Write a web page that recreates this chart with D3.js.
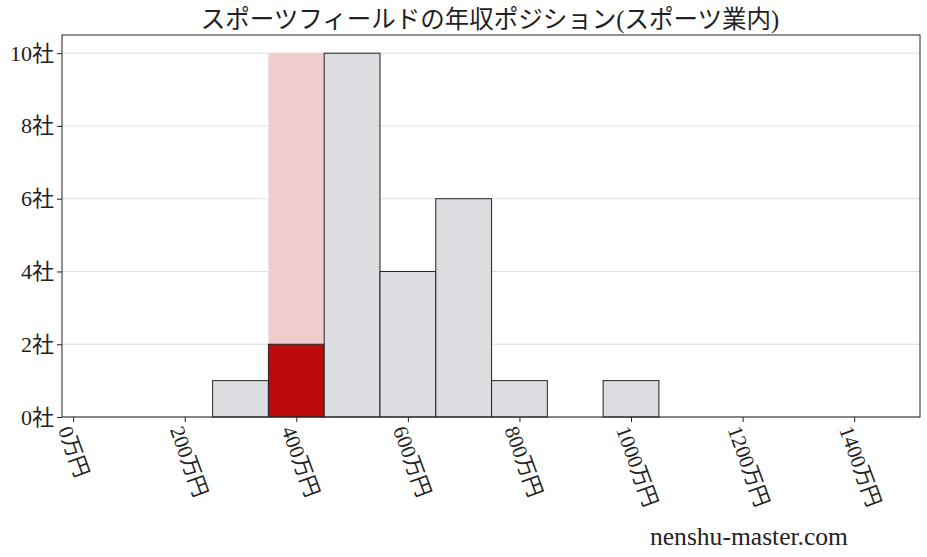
<!DOCTYPE html>
<html><head><meta charset="utf-8">
<script src="https://cdn.jsdelivr.net/npm/d3@7"></script>
<style>body{margin:0;background:#fff}svg{display:block}</style>
</head><body>
<script>
const title = "スポーツフィールドの年収ポジション(スポーツ業内)";
const binStarts = [250, 350, 450, 550, 650, 750, 850, 950];
const binWidth = 100;
const counts = [1, 2, 10, 4, 6, 1, 0, 1];
const highlightBin = 350;
const highlightBackground = 10;
const xTicks = [0, 200, 400, 600, 800, 1000, 1200, 1400];
const yTicks = [0, 2, 4, 6, 8, 10];
const watermark = "nenshu-master.com";

const W = 927, H = 557;
const m = {left: 62, right: 7, top: 35, bottom: 140};
const font = "'Liberation Serif','DejaVu Serif','Noto Sans CJK JP',serif";
const svg = d3.select("body").append("svg").attr("width", W).attr("height", H);
const x = d3.scaleLinear().domain([-20, 1518]).range([m.left, W - m.right]);
const y = d3.scaleLinear().domain([0, 10.5]).range([H - m.bottom, m.top]);

// grid
svg.append("g").selectAll("line").data(yTicks).join("line")
  .attr("x1", m.left).attr("x2", W - m.right)
  .attr("y1", d => y(d)).attr("y2", d => y(d))
  .attr("stroke", "#dddddd").attr("stroke-width", 1);

// highlight background
svg.append("rect")
  .attr("x", x(highlightBin)).attr("width", x(highlightBin + binWidth) - x(highlightBin))
  .attr("y", y(highlightBackground)).attr("height", y(0) - y(highlightBackground))
  .attr("fill", "#f0cccc");

const data = binStarts.map((s, i) => ({s, c: counts[i]}));
svg.append("g").selectAll("rect").data(data.filter(d => d.c > 0)).join("rect")
  .attr("x", d => x(d.s)).attr("width", d => x(d.s + binWidth) - x(d.s))
  .attr("y", d => y(d.c)).attr("height", d => y(0) - y(d.c))
  .attr("fill", d => d.s === highlightBin ? "#be0a0a" : "#dcdde0")
  .attr("stroke", "#222").attr("stroke-width", 1);

// frame
svg.append("rect").attr("x", m.left).attr("y", m.top)
  .attr("width", W - m.right - m.left).attr("height", H - m.bottom - m.top)
  .attr("fill", "none").attr("stroke", "#222").attr("stroke-width", 1);

// y axis
const ya = svg.append("g").attr("transform", `translate(${m.left},0)`)
  .call(d3.axisLeft(y).tickValues(yTicks).tickSize(5).tickPadding(3).tickFormat(d => d + "社"));
ya.select(".domain").remove();
ya.selectAll("line").attr("stroke", "#222");
ya.selectAll("text").attr("font-family", font).attr("font-size", 22).attr("fill", "#222");

// x axis
const xa = svg.append("g").attr("transform", `translate(0,${H - m.bottom})`)
  .call(d3.axisBottom(x).tickValues(xTicks).tickSize(5).tickFormat(d => d + "万円"));
xa.select(".domain").remove();
xa.selectAll("line").attr("stroke", "#222");
xa.selectAll("text").attr("font-family", font).attr("font-size", 21).attr("fill", "#222")
  .attr("text-anchor", "start").attr("dy", null).attr("y", 0)
  .attr("transform", "translate(-9,10) rotate(70)")
  .attr("dominant-baseline", "central");

svg.append("text").attr("x", 490).attr("y", 28).attr("text-anchor", "middle")
  .attr("font-family", font).attr("font-size", 24.5).attr("fill", "#222").text(title);

svg.append("text").attr("x", 650).attr("y", 545)
  .attr("font-family", font).attr("font-size", 25).attr("fill", "#222")
  .attr("textLength", 198).attr("lengthAdjust", "spacingAndGlyphs").text(watermark);
</script>
</body></html>
